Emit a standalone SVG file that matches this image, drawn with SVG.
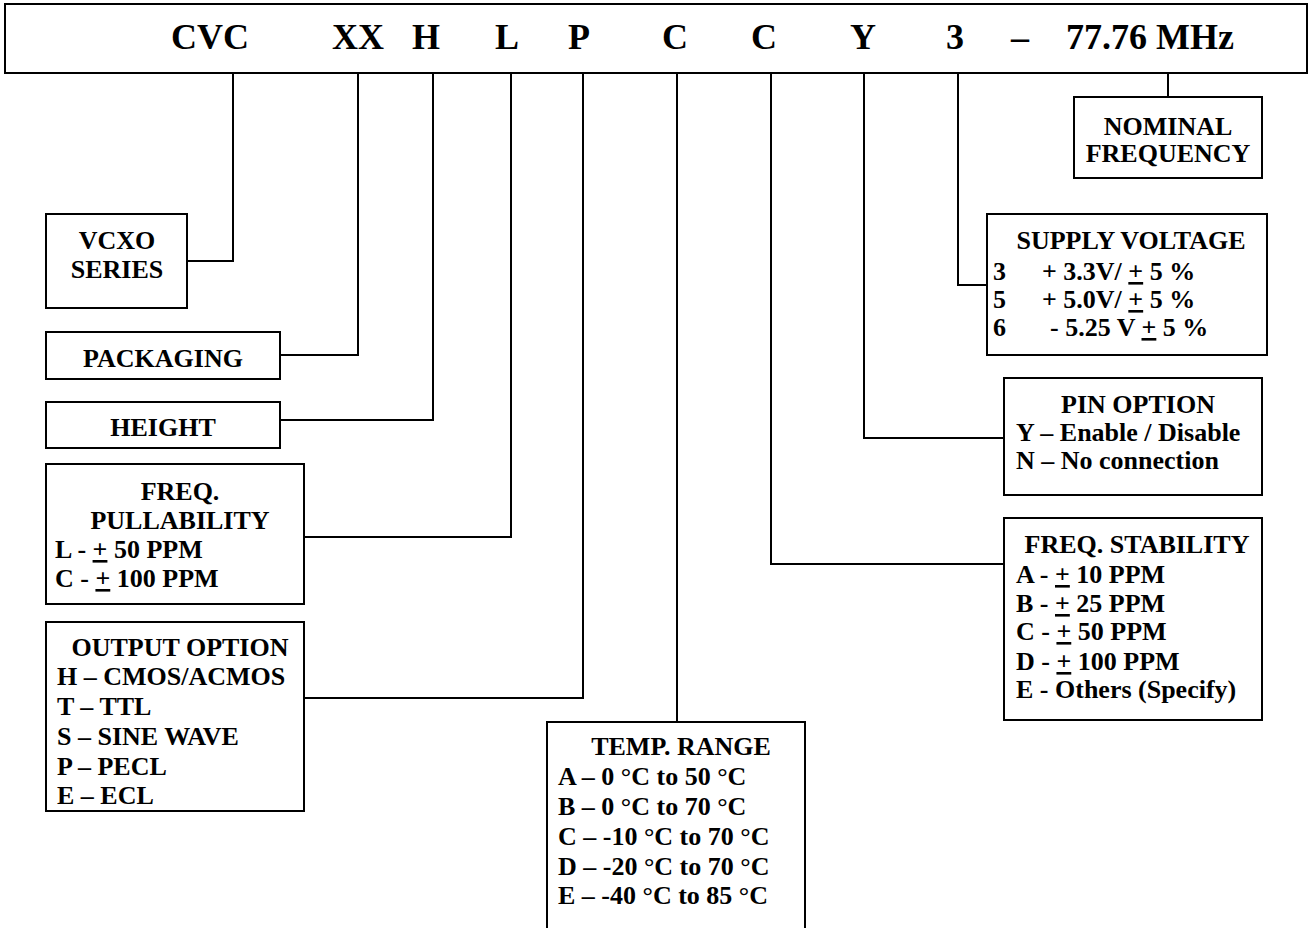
<svg xmlns="http://www.w3.org/2000/svg" width="1310" height="928" viewBox="0 0 1310 928">
<style>
.box{fill:#fff;stroke:#000;stroke-width:2}
.ln{fill:none;stroke:#000;stroke-width:2}
text{font-family:"Liberation Serif","Times New Roman",serif;font-weight:bold;fill:#000}
.t{font-size:26px}
.big{font-size:36px}
.c{text-anchor:middle}
.u{text-decoration:underline}
</style>
<rect width="1310" height="928" fill="#fff"/>
<g id="connectors">
<polyline class="ln" points="187,261 233,261 233,73"/>
<polyline class="ln" points="280,355 358,355 358,73"/>
<polyline class="ln" points="280,420 433,420 433,73"/>
<polyline class="ln" points="304,537 511,537 511,73"/>
<polyline class="ln" points="304,698 583,698 583,73"/>
<line class="ln" x1="677" y1="73" x2="677" y2="722"/>
<polyline class="ln" points="1004,564 771,564 771,73"/>
<polyline class="ln" points="1004,438 864,438 864,73"/>
<polyline class="ln" points="987,285 958,285 958,73"/>
<line class="ln" x1="1168" y1="73" x2="1168" y2="97"/>
</g>
<g id="part-number">
<rect class="box" x="5" y="4" width="1302" height="69"/>
<text class="big c" x="210" y="49">CVC</text>
<text class="big c" x="358" y="49">XX</text>
<text class="big c" x="426" y="49">H</text>
<text class="big c" x="507" y="49">L</text>
<text class="big c" x="579" y="49">P</text>
<text class="big c" x="675" y="49">C</text>
<text class="big c" x="764" y="49">C</text>
<text class="big c" x="863" y="49">Y</text>
<text class="big c" x="955" y="49">3</text>
<text class="big c" x="1020" y="49">–</text>
<text class="big" x="1066" y="49">77.76 MHz</text>
</g>
<g id="vcxo-series">
<rect class="box" x="46" y="214" width="141" height="94"/>
<text class="t c" x="117" y="249">VCXO</text>
<text class="t c" x="117" y="278">SERIES</text>
</g>
<g id="packaging">
<rect class="box" x="46" y="332" width="234" height="47"/>
<text class="t c" x="163" y="367">PACKAGING</text>
</g>
<g id="height">
<rect class="box" x="46" y="402" width="234" height="46"/>
<text class="t c" x="163" y="436">HEIGHT</text>
</g>
<g id="freq-pullability">
<rect class="box" x="46" y="464" width="258" height="140"/>
<text class="t c" x="180" y="500">FREQ.</text>
<text class="t c" x="180" y="529">PULLABILITY</text>
<text class="t" x="55" y="558">L - <tspan class="u">+</tspan> 50 PPM</text>
<text class="t" x="55" y="587">C - <tspan class="u">+</tspan> 100 PPM</text>
</g>
<g id="output-option">
<rect class="box" x="46" y="622" width="258" height="189"/>
<text class="t c" x="180" y="656">OUTPUT OPTION</text>
<text class="t" x="57" y="685">H – CMOS/ACMOS</text>
<text class="t" x="57" y="715">T – TTL</text>
<text class="t" x="57" y="745">S – SINE WAVE</text>
<text class="t" x="57" y="775">P – PECL</text>
<text class="t" x="57" y="804">E – ECL</text>
</g>
<g id="temp-range">
<rect class="box" x="547" y="722" width="258" height="220"/>
<text class="t c" x="681" y="755">TEMP. RANGE</text>
<text class="t" x="558" y="785">A – 0 °C to 50 °C</text>
<text class="t" x="558" y="815">B – 0 °C to 70 °C</text>
<text class="t" x="558" y="845">C – -10 °C to 70 °C</text>
<text class="t" x="558" y="875">D – -20 °C to 70 °C</text>
<text class="t" x="558" y="904">E – -40 °C to 85 °C</text>
</g>
<g id="nominal-frequency">
<rect class="box" x="1074" y="97" width="188" height="81"/>
<text class="t c" x="1168" y="135">NOMINAL</text>
<text class="t c" x="1168" y="162">FREQUENCY</text>
</g>
<g id="supply-voltage">
<rect class="box" x="987" y="214" width="280" height="141"/>
<text class="t c" x="1131" y="249">SUPPLY VOLTAGE</text>
<text class="t" x="993" y="280">3</text>
<text class="t" x="1042" y="280">+ 3.3V/ <tspan class="u">+</tspan> 5 %</text>
<text class="t" x="993" y="308">5</text>
<text class="t" x="1042" y="308">+ 5.0V/ <tspan class="u">+</tspan> 5 %</text>
<text class="t" x="993" y="336">6</text>
<text class="t" x="1050" y="336">- 5.25 V <tspan class="u">+</tspan> 5 %</text>
</g>
<g id="pin-option">
<rect class="box" x="1004" y="378" width="258" height="117"/>
<text class="t c" x="1138" y="413">PIN OPTION</text>
<text class="t" x="1016" y="441">Y – Enable / Disable</text>
<text class="t" x="1016" y="469">N – No connection</text>
</g>
<g id="freq-stability">
<rect class="box" x="1004" y="518" width="258" height="202"/>
<text class="t c" x="1137" y="553">FREQ. STABILITY</text>
<text class="t" x="1016" y="583">A - <tspan class="u">+</tspan> 10 PPM</text>
<text class="t" x="1016" y="612">B - <tspan class="u">+</tspan> 25 PPM</text>
<text class="t" x="1016" y="640">C - <tspan class="u">+</tspan> 50 PPM</text>
<text class="t" x="1016" y="670">D - <tspan class="u">+</tspan> 100 PPM</text>
<text class="t" x="1016" y="698">E - Others (Specify)</text>
</g>
</svg>
